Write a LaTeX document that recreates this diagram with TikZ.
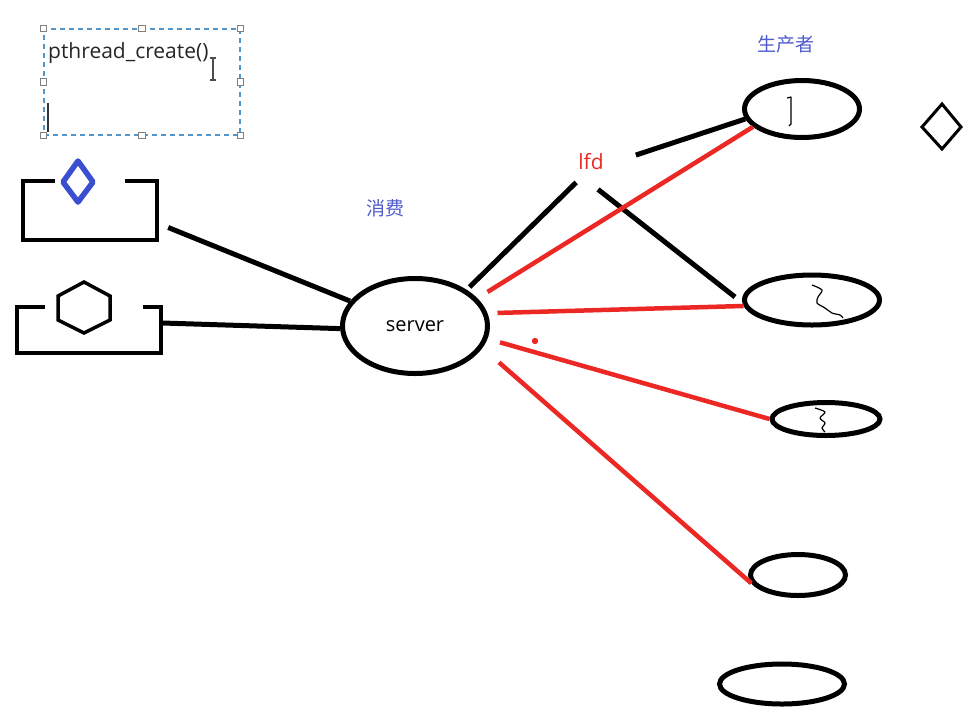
\documentclass[tikz,border=0pt]{standalone}
\usepackage{fontspec}
\setmainfont{Open Sans}
\newfontfamily\cjk{Noto Sans CJK SC}
\usetikzlibrary{shapes.geometric, positioning}
\definecolor{penred}{RGB}{236,40,36}
\definecolor{penblue}{RGB}{58,78,208}
\definecolor{noteblue}{RGB}{78,92,205}
\definecolor{selblue}{RGB}{80,150,205}

\begin{document}
\begin{tikzpicture}[x=1pt, y=-1pt,
            pad/.style={ellipse, draw, line width=5pt, inner sep=0pt},
            bay/.style={rectangle, inner sep=0pt},
            blk/.style={line width=5pt},
            redl/.style={line width=4.5pt, penred},
            bracket/.style={line width=4pt, line join=miter},
            scrawl/.style={line width=1.2pt, line join=round},
            txt/.style={font=\fontsize{20}{24}\selectfont, inner sep=1pt},
            note/.style={font=\cjk\fontsize{19}{22}\selectfont, noteblue, inner sep=1pt},
            handle/.style={rectangle, draw=gray, fill=white, line width=0.9pt, minimum size=6.5pt, inner sep=0pt}
        ]
            \useasboundingbox (0,0) rectangle (977,721);

            % selected text box
            \node[rectangle, draw=selblue, dash pattern=on 5pt off 4pt, line width=1.2pt,
                  minimum width=196pt, minimum height=106pt, inner sep=0pt] (sel) at (142,82) {};
            \foreach \a [count=\i] in {north west, north, north east, east, south east, south, south west, west}
                \node[handle] (h\i) at (sel.\a) {};
            \node[txt, anchor=base west, text=black!85, font=\fontsize{21}{24}\selectfont] (pc) at (47,58) {pthread\_create()};
            \draw[line width=1.3pt, black!70] (210,58) -- (216,58) (213,58) -- (213,80) (210,80) -- (216,80);
            \draw[line width=1.5pt, black!80] (48,103) -- (48,132);

            % clients on the left
            \node[bay, minimum width=134pt, minimum height=59pt] (bx1) at (90,210.5) {};
            \draw[bracket] ([shift={(32,0)}]bx1.north west) -- (bx1.north west) -- (bx1.south west)
                -- (bx1.south east) -- (bx1.north east) -- ([shift={(-32,0)}]bx1.north east);
            \draw[penblue, line width=5.5pt, line join=round] (78,161) -- (93,182) -- (78,202) -- (63,182) -- cycle;

            \node[bay, minimum width=144pt, minimum height=46pt] (bx2) at (89,330) {};
            \draw[bracket] ([shift={(28,0)}]bx2.north west) -- (bx2.north west) -- (bx2.south west)
                -- (bx2.south east) -- (bx2.north east) -- ([shift={(-18,0)}]bx2.north east);
            \draw[line width=3.5pt, line join=miter] (84,282) -- (110,296) -- (110,320) -- (84,333) -- (58,320) -- (58,296) -- cycle;

            % server and labels
            \node[pad, minimum width=145pt, minimum height=95pt, txt] (srv) at (415,326) {server};
            \node[note] (xf) at (385,208) {消费};
            \node[note] (scz) at (786,44) {生产者};
            \node[txt, penred, anchor=base, font=\fontsize{21}{24}\selectfont] (lfd) at (591,169) {lfd};

            % producers on the right
            \node[pad, minimum width=115pt, minimum height=57pt] (e1) at (802,109) {};
            \node[pad, minimum width=135pt, minimum height=50pt] (e2) at (812,300) {};
            \node[pad, minimum width=108pt, minimum height=33pt] (e3) at (826,419) {};
            \node[pad, minimum width=95pt, minimum height=41pt] (e4) at (798,575) {};
            \node[pad, minimum width=125pt, minimum height=40pt] (e5) at (782,684) {};
            \draw[line width=3pt, line join=miter] (942,104) -- (961,127) -- (942,149) -- (922,127) -- cycle;

            \draw[scrawl] (787,98) -- (791,97) -- (791,124) -- (789,126);
            \draw[scrawl] plot[smooth] coordinates {(812,285) (822,290) (818,297) (817,303) (825,308) (832,313) (840,315) (843,318)};
            \draw[scrawl] plot[smooth] coordinates {(815,408) (825,412) (820,418) (825,423) (822,428) (825,432)};

            % black links
            \draw[blk] ([shift={(11,17)}]bx1.east) -- (srv.159);
            \draw[blk] ([shift={(1,-7)}]bx2.east) -- (srv.182);
            \draw[blk, shorten <=4pt] (srv.35) -- ([shift={(-1,12)}]lfd.south west);
            \draw[blk] ([shift={(7,19)}]lfd.south) -- ([shift={(-7,-3)}]e2.west);
            \draw[blk] ([shift={(31,-6)}]lfd.east) -- (e1.190);

            % red links
            \draw[redl, shorten <=12pt] (srv.24) -- (e1.200);
            \draw[redl, shorten <=10pt] (srv.10) -- (e2.185);
            \draw[redl, shorten <=13pt] (srv.-10) -- (e3.west);
            \draw[redl, shorten <=22pt] (srv.-18) -- (e4.190);
            \fill[penred] (535,341) circle (3.2pt);

        \end{tikzpicture}
\end{document}
